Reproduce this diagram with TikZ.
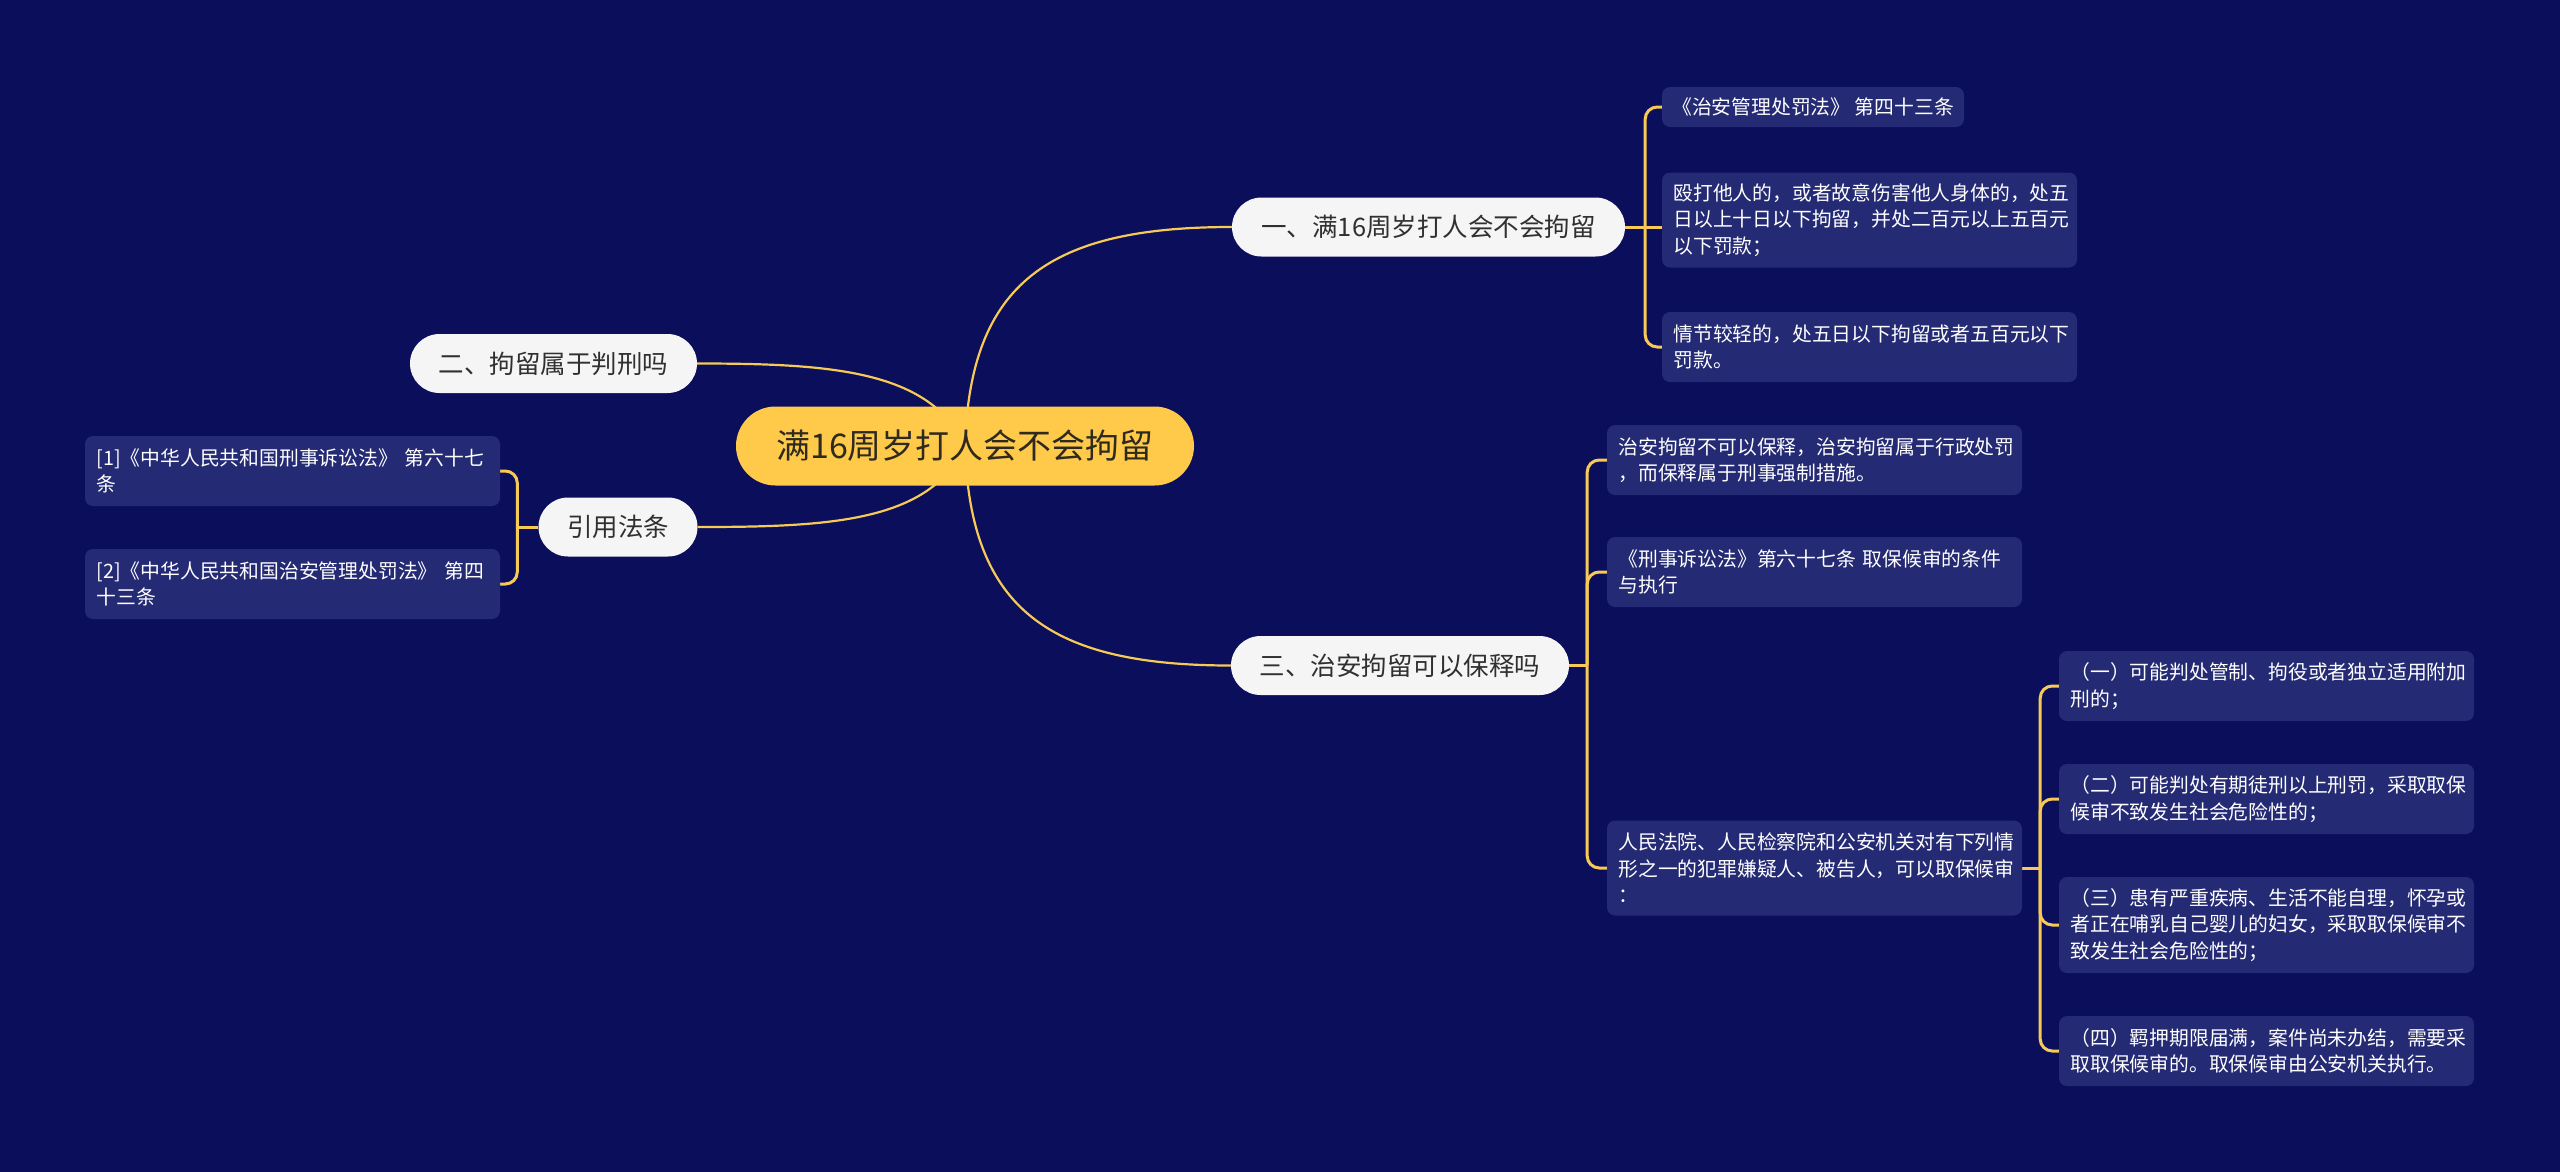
\documentclass[tikz,border=0pt]{standalone}
\usepackage{fontspec}
\setmainfont{Noto Sans CJK SC}
\pgfdeclarelayer{bg}
\pgfdeclarelayer{edges}
\pgfsetlayers{bg,edges,main}
\definecolor{bgc}{HTML}{0A0E5B}
\definecolor{leafc}{HTML}{242A73}
\definecolor{gold}{HTML}{FFC94A}
\definecolor{linec}{HTML}{F7C955}
\definecolor{pillc}{HTML}{F5F5F6}
\definecolor{pilltext}{HTML}{303030}
\definecolor{roottext}{HTML}{2E2A1F}
\definecolor{leaftext}{HTML}{FFFFFF}
\tikzset{
  rootnode/.style={fill=gold, text=roottext, rounded corners=39.5pt, minimum height=79pt, minimum width=458pt, inner xsep=0pt, inner ysep=0pt, font=\fontsize{34}{40}\selectfont},
  pill/.style={fill=pillc, text=pilltext, rounded corners=29.5pt, minimum height=59pt, inner xsep=0pt, inner ysep=0pt, font=\fontsize{25.5}{30}\selectfont},
  leaf/.style={fill=leafc, text=leaftext, rounded corners=8pt, align=left, text width=392pt, inner xsep=11.5pt, inner ysep=0pt, font=\fontsize{19.8}{26.5}\selectfont},
  leafone/.style={fill=leafc, text=leaftext, rounded corners=8pt, inner xsep=0pt, inner ysep=0pt, font=\fontsize{19.8}{26.5}\selectfont},
  curve/.style={draw=linec, line width=2.2pt},
  br/.style={draw=linec, line width=3pt, rounded corners=12pt},
}
\begin{document}
\begin{tikzpicture}[x=1pt,y=-1pt]
\useasboundingbox (0,0) rectangle (2560,1171);
\begin{pgfonlayer}{bg}
\fill[bgc] (-10,-10) rectangle (2570,1181);
\end{pgfonlayer}

% main nodes
\node[rootnode] (c) at (965,446) {满16周岁打人会不会拘留};
\node[pill, minimum width=393pt] (b1) at (1428.5,227) {一、满16周岁打人会不会拘留};
\node[pill, minimum width=287pt] (b2) at (553.5,363.5) {二、拘留属于判刑吗};
\node[pill, minimum width=159pt] (cite) at (618,527) {引用法条};
\node[pill, minimum width=338pt] (b3) at (1400,665.5) {三、治安拘留可以保释吗};

% branch 1 leaves
\node[leafone, minimum width=302pt, minimum height=40pt] (l11) at (1813,107) {《治安管理处罚法》 第四十三条};
\node[leaf, minimum height=95pt] (l12) at (1869.5,220) {殴打他人的，或者故意伤害他人身体的，处五\\日以上十日以下拘留，并处二百元以上五百元\\以下罚款；};
\node[leaf, minimum height=70pt] (l13) at (1869.5,347) {情节较轻的，处五日以下拘留或者五百元以下\\罚款。};

% branch 3 leaves
\node[leaf, minimum height=70pt] (l31) at (1814.5,460) {治安拘留不可以保释，治安拘留属于行政处罚\\，而保释属于刑事强制措施。};
\node[leaf, minimum height=70pt] (l32) at (1814.5,572) {《刑事诉讼法》第六十七条 取保候审的条件\\与执行};
\node[leaf, minimum height=95pt] (l33) at (1814.5,868) {人民法院、人民检察院和公安机关对有下列情\\形之一的犯罪嫌疑人、被告人，可以取保候审\\：};

% sub leaves
\node[leaf, minimum height=70pt] (s1) at (2266.5,686) {（一）可能判处管制、拘役或者独立适用附加\\刑的；};
\node[leaf, minimum height=70pt] (s2) at (2266.5,799) {（二）可能判处有期徒刑以上刑罚，采取取保\\候审不致发生社会危险性的；};
\node[leaf, minimum height=96pt] (s3) at (2266.5,925) {（三）患有严重疾病、生活不能自理，怀孕或\\者正在哺乳自己婴儿的妇女，采取取保候审不\\致发生社会危险性的；};
\node[leaf, minimum height=70pt] (s4) at (2266.5,1051) {（四）羁押期限届满，案件尚未办结，需要采\\取取保候审的。取保候审由公安机关执行。};

% citations
\node[leaf, minimum height=70pt] (c1) at (292.5,471) {[1]《中华人民共和国刑事诉讼法》 第六十七\\条};
\node[leaf, minimum height=70pt] (c2) at (292.5,584) {[2]《中华人民共和国治安管理处罚法》 第四\\十三条};

% junction coordinates
\path (b1.east) ++(20,0) coordinate (j1);
\path (b3.east) ++(18,0) coordinate (j3);
\path (l33.east) ++(18,0) coordinate (js);
\path (cite.west) ++(-21,0) coordinate (jc);

\begin{pgfonlayer}{edges}
\draw[curve] (c.center) .. controls (970,282) and (1050,227) .. (b1.west);
\draw[curve] (c.center) .. controls (970,610) and (1050,665.5) .. (b3.west);
\draw[curve] (c.center) .. controls (930,370) and (830,363.5) .. (b2.east);
\draw[curve] (c.center) .. controls (930,522) and (830,527) .. (cite.east);

% branch 1 bracket
\draw[br] (b1.east) -- (b1.east -| l12.west);
\draw[br] (j1) |- (l11.west);
\draw[br] (j1) |- (l13.west);

% branch 3 bracket
\draw[br] (b3.east) -- (j3);
\draw[br] (j3) |- (l31.west);
\draw[br] (j3) |- (l32.west);
\draw[br] (j3) |- (l33.west);

% sub bracket
\draw[br] (l33.east) -- (js);
\draw[br] (js) |- (s1.west);
\draw[br] (js) |- (s2.west);
\draw[br] (js) |- (s3.west);
\draw[br] (js) |- (s4.west);

% citation bracket
\draw[br] (cite.west) -- (jc);
\draw[br] (jc) |- (c1.east);
\draw[br] (jc) |- (c2.east);
\end{pgfonlayer}
\end{tikzpicture}
\end{document}
